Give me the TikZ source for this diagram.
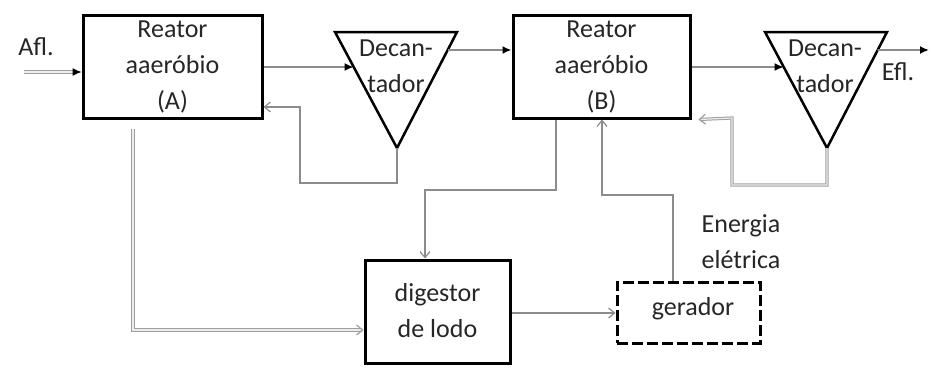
\documentclass[tikz,border=0pt]{standalone}
\usepackage{fontspec}
\setmainfont{Carlito}
\usetikzlibrary{arrows.meta,calc}
\begin{document}
\begin{tikzpicture}[x=1pt,y=-1pt,
  txt/.style={font=\fontsize{26}{36}\selectfont, text=black!85, align=center, inner sep=0pt},
  blk/.style={draw=black, line width=3pt, minimum width=#1, inner sep=0pt},
  conn/.style={draw=gray!90, line width=1.8pt},
  pale/.style={draw=gray!75, line width=1pt, double=gray!15, double distance=1.2pt},
  fill arr/.style={-{Latex[length=9pt,width=8pt,fill=black,color=black]}},
  open arr/.style={-{Straight Barb[length=6pt,width=10pt,line width=1.2pt]}}]
\useasboundingbox (0,0) rectangle (931,367);

% boxes
\node[blk=179pt, minimum height=103pt] (A) at (172.5,66.5) {};
\node[txt] at (172.5,67) {Reator\\aaeróbio\\(A)};
\node[blk=177pt, minimum height=103pt] (B) at (601.5,66.5) {};
\node[txt] at (601.5,67) {Reator\\aaeróbio\\(B)};
\node[blk=145pt, minimum height=103pt] (D) at (437.5,311.5) {};
\node[txt] at (437.5,310.5) {digestor\\de lodo};
\node[draw=black, line width=3pt, dash pattern=on 11pt off 4pt, minimum width=143pt, minimum height=61pt, inner sep=0pt] (G) at (688.5,312.5) {};
\node[txt] at (693,309) {gerador};

% decanters
\coordinate (d1a) at (335,32); \coordinate (d1b) at (457,32); \coordinate (d1c) at (397,148);
\draw[line width=2.5pt, line join=miter] (d1a) -- (d1b) -- (d1c) -- cycle;
\node[txt] (t1) at (396,66) {Decan-\\tador};
\coordinate (d2a) at (765,32); \coordinate (d2b) at (887,32); \coordinate (d2c) at (827,148);
\draw[line width=2.5pt, line join=miter] (d2a) -- (d2b) -- (d2c) -- cycle;
\node[txt] (t2) at (825,66) {Decan-\\tador};

% labels
\node[txt] (afl) at (36,47) {Afl.};
\node[txt] (efl) at (898,72) {Efl.};
\node[txt] (en) at (741,242) {Energia\\elétrica};

% points on decanter edges
\coordinate (d1in) at ($(d1a)!{35/116}!(d1c)$);
\coordinate (d1out) at ($(d1b)!{18/116}!(d1c)$);
\coordinate (d2in) at ($(d2a)!{35/116}!(d2c)$);
\coordinate (d2out) at ($(d2b)!{18/116}!(d2c)$);
\coordinate (afls) at (24,72);
\coordinate (efle) at (929,50);

% connectors
\draw[pale, fill arr] (afls) -- (afls -| A.west);
\draw[conn, fill arr] (A.east |- d1in) -- (d1in);
\draw[conn, fill arr] (d1out) -- (d1out -| B.west);
\draw[conn, fill arr] (B.east |- d2in) -- (d2in);
\draw[conn, fill arr] (d2out) -- (efle);
\draw[conn, open arr] (d1c) -- (397,183) -- (300,183) -- (300,107) -- (A.east |- 0,107);
\draw[pale, open arr] (d2c) -- (827,185) -- (732,185) -- (732,118) -- ([xshift=7pt]B.south east);
\draw[conn, open arr] (B.south -| 556,0) -- (556,190) -- (425,190) -- (D.north -| 425,0);
\draw[conn, open arr] (G.north -| 673,0) -- (673,195) -- (602,195) -- (B.south -| 602,0);
\draw[pale, open arr] (133,129) -- (133,330) -- (D.west |- 0,330);
\draw[conn, open arr] (D.east |- 0,313) -- (G.west |- 0,313);
\end{tikzpicture}
\end{document}
